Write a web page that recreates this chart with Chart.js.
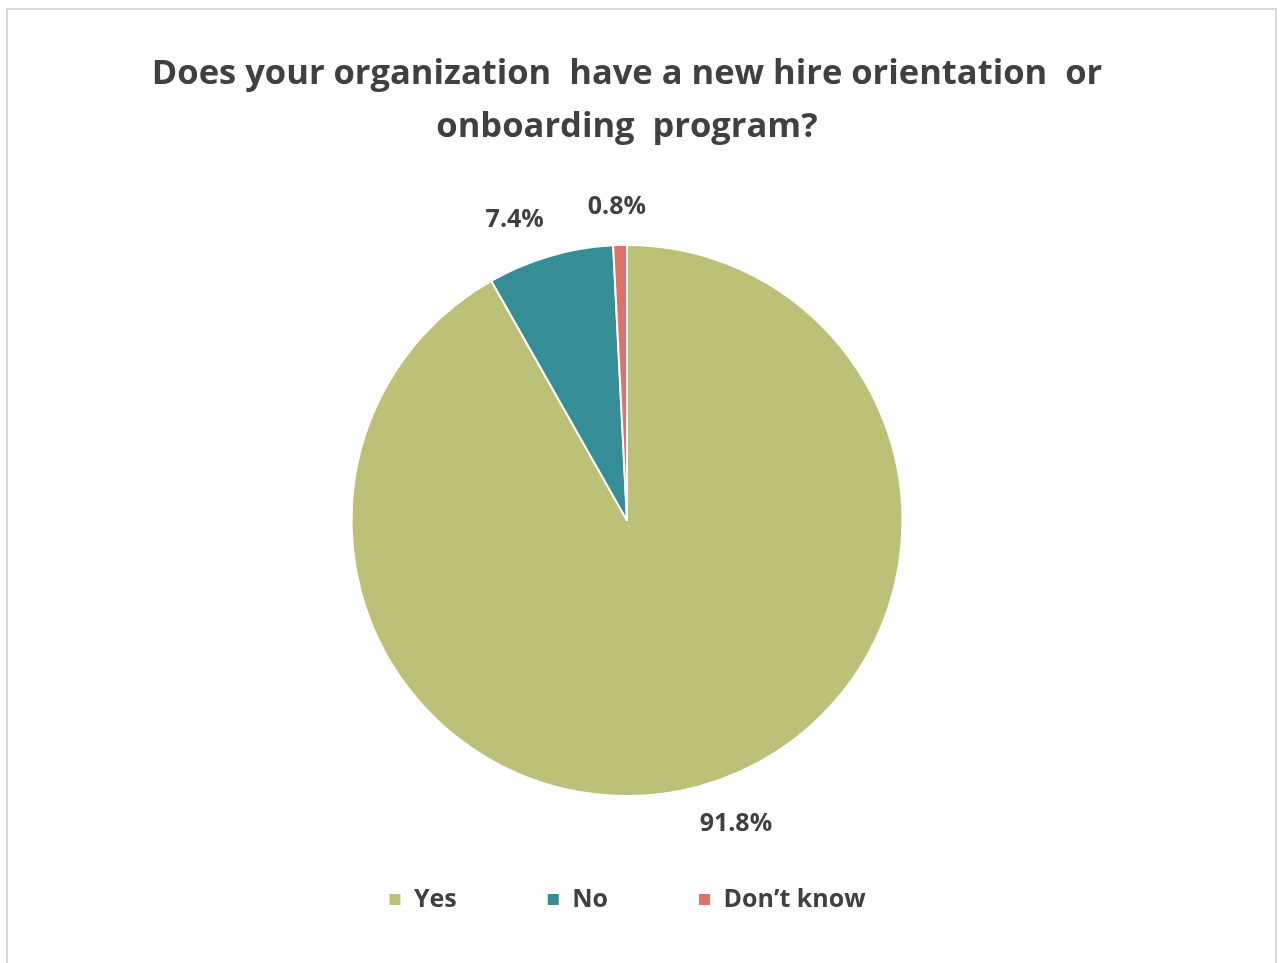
<!DOCTYPE html>
<html>
<head>
<meta charset="utf-8">
<script src="https://cdn.jsdelivr.net/npm/chart.js@4"></script>
<style>
  body { margin: 0; background: #fff; }
  #frame {
    position: absolute; left: 6px; top: 8px;
    width: 1271px; height: 960px;
    border: 2px solid #d9d9d9; box-sizing: border-box;
  }
  #wrap { position: absolute; left: 0; top: 0; width: 1281px; height: 963px; }
</style>
</head>
<body>
<div id="frame"></div>
<div id="wrap"><canvas id="onboardChart" width="1281" height="963"></canvas></div>
<script>
const answers = ['Yes', 'No', 'Don\u2019t know'];
const shares = [91.8, 7.4, 0.8];
const sliceColors = ['#bcc177', '#358e95', '#e0716a'];

const textColor = '#404040';
const fontFamily = '"Open Sans", sans-serif';

// percentage labels just outside each slice
const outsideLabels = {
    id: 'outsideLabels',
    afterDatasetsDraw(chart) {
        const ctx = chart.ctx;
        const meta = chart.getDatasetMeta(0);
        ctx.save();
        ctx.font = 'bold 25px ' + fontFamily;
        ctx.fillStyle = textColor;
        ctx.textAlign = 'center';
        ctx.textBaseline = 'middle';
        meta.data.forEach((arc, i) => {
            const p = arc.getProps(['x', 'y', 'startAngle', 'endAngle', 'outerRadius'], true);
            const mid = (p.startAngle + p.endAngle) / 2;
            const dx = Math.cos(mid), dy = Math.sin(mid);
            const text = shares[i].toFixed(1) + '%';
            const w = ctx.measureText(text).width;
            const h = 26;
            const r = p.outerRadius + 25;
            const fx = Math.max(-1, Math.min(1, dx * 3.5));
            const x = p.x + dx * r + fx * w / 2;
            const y = p.y + dy * r + dy * h / 2;
            ctx.fillText(text, x, y);
        });
        ctx.restore();
    }
};

const ctx = document.getElementById('onboardChart').getContext('2d');
const chart = new Chart(ctx, {
    type: 'pie',
    data: {
        labels: answers,
        datasets: [{
            data: shares,
            backgroundColor: sliceColors,
            borderColor: '#ffffff',
            borderWidth: 2
        }]
    },
    options: {
        responsive: false,
        animation: false,
        events: [],
        layout: { padding: { left: 0, right: 27, top: 0, bottom: 41 } },
        plugins: {
            title: {
                display: true,
                text: ['Does your organization  have a new hire orientation  or', 'onboarding  program?'],
                color: textColor,
                font: { family: fontFamily, size: 34.5, weight: 'bold', lineHeight: 53 / 34.5 },
                padding: { top: 48, bottom: 90 }
            },
            legend: {
                position: 'bottom',
                labels: {
                    color: textColor,
                    font: { family: fontFamily, size: 25, weight: 'bold' },
                    boxWidth: 13,
                    boxHeight: 13,
                    padding: 90
                }
            },
            tooltip: { enabled: false }
        }
    },
    plugins: [outsideLabels]
});
</script>
</body>
</html>
